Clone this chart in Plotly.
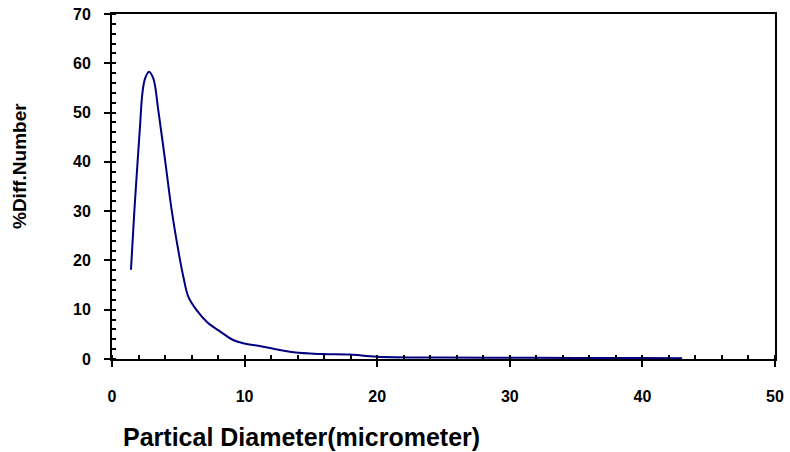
import plotly.graph_objects as go

diameter = [1.43, 1.69, 1.94, 2.11, 2.29, 2.49, 2.79, 3.12, 3.49, 4.0, 4.5, 5.13, 5.38, 5.76, 6.38, 7.2, 8.14, 9.13, 9.9, 11.4, 13.7, 15.9, 17.9, 20, 25, 30, 35, 40, 43]
pct_number = [18.1, 30.2, 40.4, 47.1, 53.9, 56.9, 58.3, 56.9, 50.5, 40.4, 30.2, 20.1, 16.7, 12.6, 9.9, 7.4, 5.6, 3.85, 3.2, 2.5, 1.35, 1.0, 0.9, 0.47, 0.3, 0.25, 0.2, 0.2, 0.15]

FONT = "Liberation Sans, Arial, sans-serif"
W, H = 790, 452
L, R, T, B = 112, 15, 14, 93

fig = go.Figure()
fig.add_trace(go.Scatter(x=diameter, y=pct_number, mode="lines",
                         line=dict(color="#000080", width=2, shape="spline", smoothing=1.0),
                         showlegend=False))

fig.update_layout(
    width=W, height=H,
    margin=dict(l=L, r=R, t=T, b=B, autoexpand=False),
    paper_bgcolor="white", plot_bgcolor="white",
    font=dict(family=FONT, color="black"),
)
fig.update_xaxes(
    range=[0, 50], dtick=10, tick0=0, automargin=False,
    showline=True, linecolor="black", linewidth=2, mirror=True,
    ticks="outside", ticklen=6, tickwidth=2, tickcolor="black",
    minor=dict(ticks="inside", dtick=2, ticklen=4, tickwidth=1.5, tickcolor="black"),
    showgrid=False, zeroline=False, ticklabelstandoff=16,
    tickfont=dict(family=FONT, size=16, color="black", weight="bold"),
)
fig.update_yaxes(
    range=[0, 70], dtick=10, tick0=0, automargin=False,
    showline=True, linecolor="black", linewidth=2, mirror=True,
    ticks="outside", ticklen=6, tickwidth=2, tickcolor="black",
    minor=dict(ticks="inside", dtick=2, ticklen=4, tickwidth=1.5, tickcolor="black"),
    showgrid=False, zeroline=False, ticklabelstandoff=10,
    tickfont=dict(family=FONT, size=16, color="black", weight="bold"),
)
fig.add_annotation(text="<b>Partical Diameter(micrometer)</b>", xref="paper", yref="paper",
                   x=(301 - L) / (W - L - R), y=-(437 - (H - B)) / (H - B - T),
                   xanchor="center", yanchor="middle", showarrow=False,
                   font=dict(family=FONT, size=25, color="black"))
fig.add_annotation(text="<b>%Diff.Number</b>", xref="paper", yref="paper",
                   x=-(L - 19) / (W - L - R), y=((H - B) - 166) / (H - B - T),
                   xanchor="center", yanchor="middle", showarrow=False, textangle=-90,
                   font=dict(family=FONT, size=19, color="black"))
fig.write_html("out.html", config={"displayModeBar": False},
               post_script="document.body.style.margin='0px';")
